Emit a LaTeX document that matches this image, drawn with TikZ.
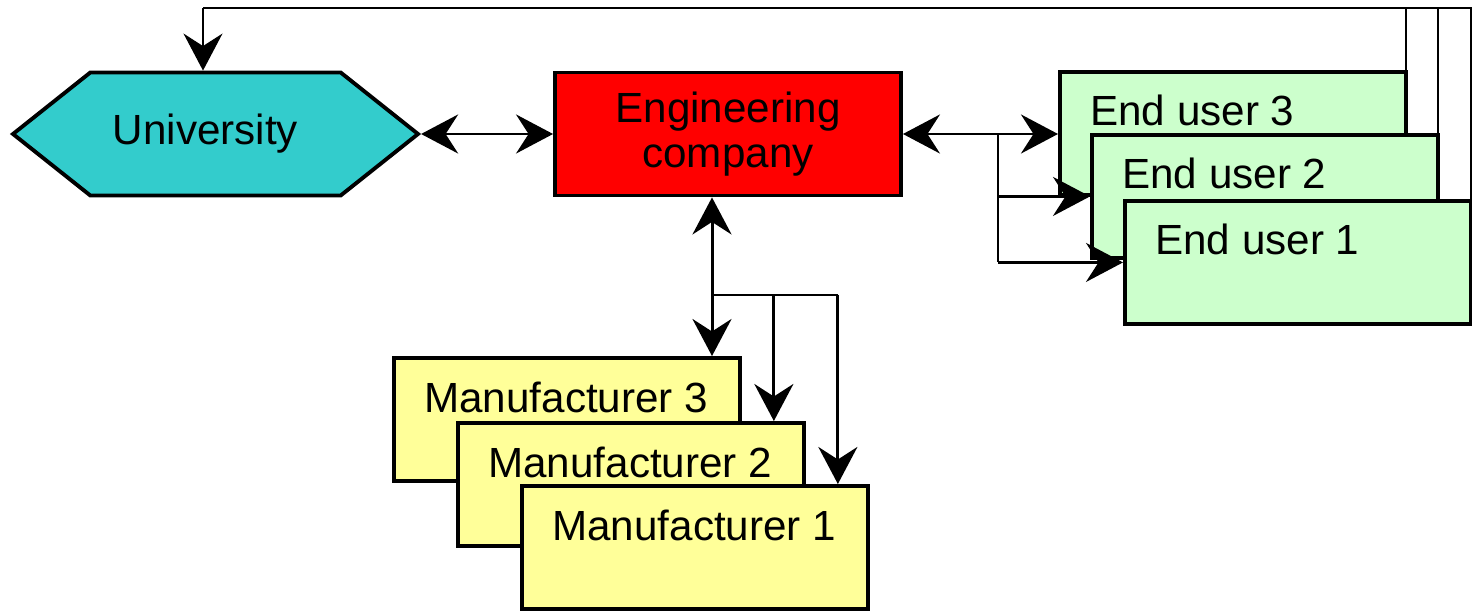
\documentclass[tikz,border=0pt]{standalone}
\usepackage{fontspec}
\setmainfont{Liberation Sans}
\usetikzlibrary{arrows.meta,shapes.symbols,positioning}

\definecolor{unifill}{HTML}{33CCCC}
\definecolor{engfill}{HTML}{FF0000}
\definecolor{userfill}{HTML}{CCFFCC}
\definecolor{makerfill}{HTML}{FFFF99}

\begin{document}
\begin{tikzpicture}[
font=\fontsize{24}{25.5}\selectfont,
>={Stealth[length=7.4mm,width=7.8mm,inset=2.5mm]},
stackbox/.style={draw, line width=2.2pt, minimum width=6.92cm, minimum height=2.46cm, anchor=north west},
userbox/.style={stackbox, fill=userfill},
makerbox/.style={stackbox, fill=makerfill},
boxtext/.style={anchor=west, inner sep=0pt},
link/.style={line width=1.7pt},
feed/.style={line width=0.75pt}
]

\fill[white] (0,0) rectangle (29.44,-12.24);
\useasboundingbox (0,0) rectangle (29.44,-12.24);

%%%%%%%%%%%%%%%%%%%%%%%%%%%%%%%%%%%%%%%%%%%%%%%%%%%%%%
% UNIVERSITY
%%%%%%%%%%%%%%%%%%%%%%%%%%%%%%%%%%%%%%%%%%%%%%%%%%%%%%

\node[
draw,
line width=2.2pt,
fill=unifill,
shape=signal,
signal to=west and east,
signal pointer angle=77,
minimum width=8.1cm,
minimum height=2.46cm
] (uni) at (4.31,-2.68)
{University\hspace*{0.4cm}};

%%%%%%%%%%%%%%%%%%%%%%%%%%%%%%%%%%%%%%%%%%%%%%%%%%%%%%
% ENGINEERING COMPANY
%%%%%%%%%%%%%%%%%%%%%%%%%%%%%%%%%%%%%%%%%%%%%%%%%%%%%%

\node[
draw,
line width=2.2pt,
fill=engfill,
minimum width=6.92cm,
minimum height=2.46cm,
align=center
] (eng) at (14.56,-2.68)
{Engineering\\company};

%%%%%%%%%%%%%%%%%%%%%%%%%%%%%%%%%%%%%%%%%%%%%%%%%%%%%%
% END USERS
%%%%%%%%%%%%%%%%%%%%%%%%%%%%%%%%%%%%%%%%%%%%%%%%%%%%%%

\node[userbox] (user3) at (21.16,-1.40) {};
\node[boxtext] (user3txt) at ([xshift=0.64cm,yshift=-0.8cm]user3.north west) {End user 3};

\node[userbox] (user2) at (21.80,-2.66) {};
\node[boxtext] (user2txt) at ([xshift=0.64cm,yshift=-0.8cm]user2.north west) {End user 2};

\node[userbox] (user1) at (22.46,-3.98) {};
\node[boxtext] (user1txt) at ([xshift=0.64cm,yshift=-0.8cm]user1.north west) {End user 1};

%%%%%%%%%%%%%%%%%%%%%%%%%%%%%%%%%%%%%%%%%%%%%%%%%%%%%%
% MANUFACTURERS
%%%%%%%%%%%%%%%%%%%%%%%%%%%%%%%%%%%%%%%%%%%%%%%%%%%%%%

\node[makerbox] (maker3) at (7.84,-7.12) {};
\node[boxtext] (maker3txt) at ([xshift=0.64cm,yshift=-0.82cm]maker3.north west) {Manufacturer 3};

\node[makerbox] (maker2) at (9.12,-8.42) {};
\node[boxtext] (maker2txt) at ([xshift=0.64cm,yshift=-0.82cm]maker2.north west) {Manufacturer 2};

\node[makerbox] (maker1) at (10.40,-9.68) {};
\node[boxtext] (maker1txt) at ([xshift=0.64cm,yshift=-0.82cm]maker1.north west) {Manufacturer 1};

%%%%%%%%%%%%%%%%%%%%%%%%%%%%%%%%%%%%%%%%%%%%%%%%%%%%%%
% CONNECTORS
%%%%%%%%%%%%%%%%%%%%%%%%%%%%%%%%%%%%%%%%%%%%%%%%%%%%%%

\draw[link,<->] (uni.east) -- (eng.west);
\draw[link,<->] (eng.east) -- (eng.east -| user3.west);

\coordinate (usplit) at ([xshift=1.9cm]eng.east);
\draw[feed] (usplit) -- (usplit |- user1.west);
\draw[link,->] (usplit |- user2.west) -- (user2.west);
\draw[link,->] (usplit |- user1.west) -- (user1.west);

\coordinate (mdrop) at ([xshift=-0.32cm]eng.south);
\draw[link,<->] (mdrop) -- (mdrop |- maker3.north);

\coordinate (msplit) at ([yshift=-1.95cm]mdrop);
\coordinate (maker2in) at ([xshift=-0.64cm]maker2.north east);
\coordinate (maker1in) at ([xshift=-0.64cm]maker1.north east);
\draw[feed] (msplit) -- (msplit -| maker1in);
\draw[link,->] (msplit -| maker2in) -- (maker2in);
\draw[link,->] (msplit -| maker1in) -- (maker1in);

% feedback from the end users to the university
\coordinate (unitop) at ([xshift=-0.25cm,yshift=1.25cm]uni.north);
\draw[feed] ([xshift=-0.04cm]user1.north east) |- (unitop);
\draw[feed] ([xshift=-0.04cm]user2.north east) -- ([xshift=-0.04cm]user2.north east |- unitop);
\draw[feed] ([xshift=-0.04cm]user3.north east) -- ([xshift=-0.04cm]user3.north east |- unitop);
\draw[feed,->] (unitop) -- (unitop |- uni.north);

\end{tikzpicture}
\end{document}
